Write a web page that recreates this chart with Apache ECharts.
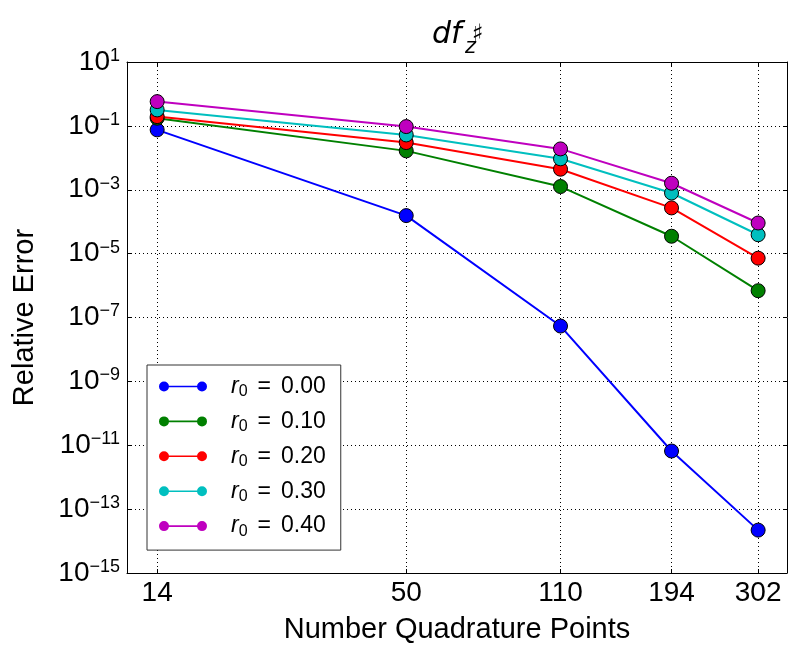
<!DOCTYPE html>
<html>
<head>
	<meta charset="utf-8">
	<title>df_z relative error</title>
	<script type="text/javascript" src="https://cdn.jsdelivr.net/npm/echarts@6.0.0/dist/echarts.min.js"></script>
	<style>
		html, body { margin: 0; padding: 0; background: #fff; }
	</style>
</head>
<body>
	<div id="chart" style="width: 800px;height:653px;"></div>
	<script type="text/javascript">
		// quadrature sizes on the x axis
		const points = [14, 50, 110, 194, 302];
		// relative error per r0 value
		const radii = ['0.00', '0.10', '0.20', '0.30', '0.40'];
		const err_r000 = [0.075, 1.55e-4, 5.4e-8, 6.6e-12, 2.2e-14];
		const err_r010 = [0.174, 0.0165, 1.26e-3, 3.5e-5, 6.9e-7];
		const err_r020 = [0.195, 0.030, 4.4e-3, 2.7e-4, 7.2e-6];
		const err_r030 = [0.316, 0.052, 9.3e-3, 7.9e-4, 3.9e-5];
		const err_r040 = [0.575, 0.095, 0.019, 1.6e-3, 9.1e-5];
		const yTicks = [1e-15, 1e-13, 1e-11, 1e-9, 1e-7, 1e-5, 1e-3, 1e-1, 1e1];
		const colors = ['#0000ff', '#008000', '#ff0000', '#00bfbf', '#bf00bf'];

		const allErr = [err_r000, err_r010, err_r020, err_r030, err_r040];
		const FONT = '"Liberation Sans", Arial, sans-serif';

		const series = allErr.map(function (vals, i) {
			return {
				name: 'r0 = ' + radii[i],
				type: 'line',
				data: points.map((p, j) => [p, vals[j]]),
				symbol: 'circle',
				symbolSize: 14,
				lineStyle: { color: colors[i], width: 2 },
				itemStyle: { color: colors[i], borderColor: '#000', borderWidth: 1 },
				emphasis: { disabled: true },
				z: 3 + i
			};
		});

		const gridLine = { show: true, lineStyle: { color: '#000', type: [1, 3], width: 1 } };
		const tickStyle = { show: true, inside: true, length: 4, lineStyle: { color: '#000' } };

		const option = {
			animation: false,
			backgroundColor: '#fff',
			grid: { left: 127, top: 62, right: 13, bottom: 80, containLabel: false },
			graphic: [
				{ type: 'text', x: 432, y: 35, style: { text: 'df', font: 'italic 30px "DejaVu Sans"', fill: '#000', verticalAlign: 'middle' } },
				{ type: 'text', x: 465, y: 48, style: { text: 'z', font: 'italic 21px "DejaVu Sans"', fill: '#000', verticalAlign: 'middle' } },
				{ type: 'text', x: 472, y: 35, style: { text: '\u266F', font: '24px "DejaVu Sans"', fill: '#000', verticalAlign: 'middle' } }
			],
			legend: {
				orient: 'vertical',
				left: 147,
				top: 365,
				padding: [10, 15, 11, 12],
				itemGap: 10.4,
				itemWidth: 48,
				itemHeight: 10,
				icon: 'path://M0,5A5,5,0,1,1,10,5A5,5,0,1,1,0,5Z M38,5A5,5,0,1,1,48,5A5,5,0,1,1,38,5Z M5,4.2L43,4.2L43,5.8L5,5.8Z',
				itemStyle: { borderWidth: 0 },
				backgroundColor: '#fff',
				borderColor: '#333',
				borderWidth: 1,
				borderRadius: 0,
				formatter: function (name) {
					return '{i|r}{s|0}{e|=}{t|' + name.split('= ')[1] + '}';
				},
				textStyle: {
					color: '#000',
					rich: {
						i: { fontFamily: FONT, fontStyle: 'italic', fontSize: 23, lineHeight: 26, padding: [0, 0, 0, 19] },
						s: { fontFamily: FONT, fontSize: 16, lineHeight: 26, verticalAlign: 'bottom' },
						e: { fontFamily: FONT, fontSize: 23, lineHeight: 26, padding: [0, 10, 0, 10] },
						t: { fontFamily: FONT, fontSize: 23, lineHeight: 26 }
					}
				}
			},
			xAxis: [{
				type: 'log',
				logBase: 10,
				min: 12,
				max: 350,
				name: 'Number Quadrature Points',
				nameLocation: 'middle',
				nameGap: 42,
				nameTextStyle: { fontFamily: FONT, fontSize: 29, color: '#000' },
				axisLine: { show: true, onZero: false, lineStyle: { color: '#000', width: 1 } },
				axisTick: Object.assign({ customValues: points }, tickStyle),
				minorTick: { show: false },
				axisLabel: { customValues: points, margin: 6, fontFamily: FONT, fontSize: 28, color: '#000' },
				splitLine: gridLine
			}, {
				type: 'log',
				logBase: 10,
				min: 12,
				max: 350,
				position: 'top',
				axisLine: { show: true, onZero: false, lineStyle: { color: '#000', width: 1 } },
				axisTick: Object.assign({ customValues: points }, tickStyle),
				axisLabel: { show: false },
				splitLine: { show: false }
			}],
			yAxis: [{
				type: 'log',
				logBase: 10,
				min: 1e-15,
				max: 1e1,
				name: 'Relative Error',
				nameLocation: 'middle',
				nameGap: 88,
				nameTextStyle: { fontFamily: FONT, fontSize: 29, color: '#000' },
				axisLine: { show: true, onZero: false, lineStyle: { color: '#000', width: 1 } },
				axisTick: Object.assign({ customValues: yTicks }, tickStyle),
				axisLabel: {
					customValues: yTicks,
					margin: 7,
					formatter: function (v) {
						const e = Math.round(Math.log10(v));
						return '{b|10}{s|' + String(e).replace('-', '\u2212') + '}';
					},
					rich: {
						b: { fontFamily: FONT, fontSize: 28, lineHeight: 30, color: '#000' },
						s: { fontFamily: FONT, fontSize: 18, lineHeight: 20, verticalAlign: 'top', color: '#000' }
					}
				},
				splitLine: gridLine
			}, {
				type: 'log',
				logBase: 10,
				min: 1e-15,
				max: 1e1,
				position: 'right',
				axisLine: { show: true, onZero: false, lineStyle: { color: '#000', width: 1 } },
				axisTick: Object.assign({ customValues: yTicks }, tickStyle),
				axisLabel: { show: false },
				splitLine: { show: false }
			}],
			series: series
		};

		const myChart = echarts.init(document.getElementById('chart'));
		myChart.setOption(option);
	</script>
</body>
</html>
